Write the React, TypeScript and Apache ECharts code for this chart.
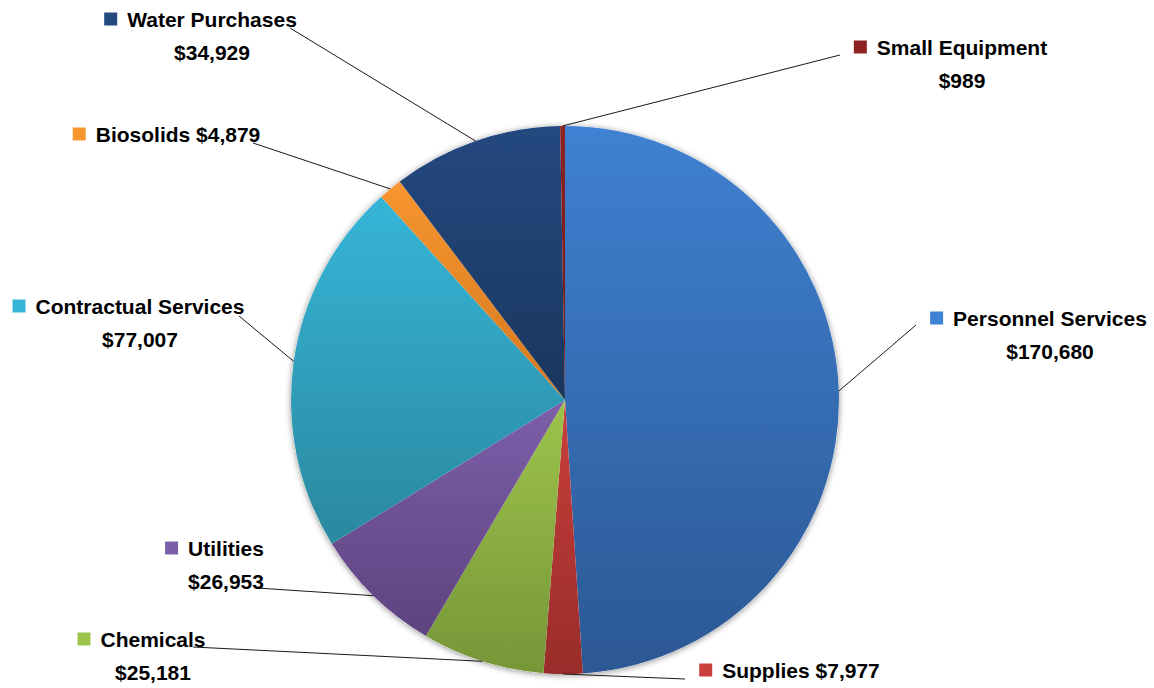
import React, { useEffect, useRef } from "react";
import * as echarts from "echarts";

const categories = [
  "Personnel Services",
  "Supplies",
  "Chemicals",
  "Utilities",
  "Contractual Services",
  "Biosolids",
  "Water Purchases",
  "Small Equipment",
];
const values = [170680, 7977, 25181, 26953, 77007, 4879, 34929, 989];
const singleLine = [false, true, false, false, false, true, false, false];

const topColors = ["#3f81d2", "#c9403d", "#9dc44c", "#7d5fa9", "#36b5d8", "#f7962f", "#24497f", "#8e2323"];
const bottomColors = ["#2c5894", "#992c2a", "#769638", "#5e4380", "#2a889f", "#d5781f", "#19365e", "#681818"];

// layout (pixels)
const CX = 565;
const CY = 400;
const R = 274;
const labelAnchor: number[][] = [
  [1050, 318],
  [801, 670],
  [153, 639],
  [226, 548],
  [140, 306],
  [178, 134],
  [212, 19],
  [962, 47],
];
const lineEnd: number[][] = [
  [916, 325],
  [685, 679],
  [193, 647],
  [257, 588],
  [239, 316],
  [253, 143],
  [290, 28],
  [840, 55],
];

const FONT = "'Liberation Sans', Arial, sans-serif";
const LINE_H = 33;

function fmt(v: number) {
  return "$" + v.toLocaleString("en-US");
}

export default function App() {
  const ref = useRef<HTMLDivElement>(null);
  useEffect(() => {
    if (!ref.current) return;
    const chart = echarts.init(ref.current, undefined, { renderer: "svg" });
    const total = values.reduce((a, b) => a + b, 0);
    let cum = 0;
    const graphics: any[] = [];
    values.forEach((v, i) => {
      const mid = (cum + v / 2) / total;
      cum += v;
      const th = mid * Math.PI * 2;
      const sx = CX + R * Math.sin(th);
      const sy = CY - R * Math.cos(th);
      graphics.push({
        type: "line",
        silent: true,
        shape: { x1: sx, y1: sy, x2: lineEnd[i][0], y2: lineEnd[i][1] },
        style: { stroke: "#1a1a1a", lineWidth: 1 },
        z: 10,
      });
      const name = categories[i];
      const val = fmt(v);
      const text = singleLine[i]
        ? `{sq|}{gap|}${name} ${val}{pad|}`
        : `{sq|}{gap|}${name}{pad|}\n${val}`;
      graphics.push({
        type: "text",
        silent: true,
        x: labelAnchor[i][0],
        y: labelAnchor[i][1] - LINE_H / 2,
        z: 11,
        style: {
          text,
          align: "center",
          textAlign: "center",
          verticalAlign: "top",
          textVerticalAlign: "top",
          fontFamily: FONT,
          fontWeight: "bold",
          fontSize: 21,
          lineHeight: LINE_H,
          fill: "#000",
          rich: {
            sq: {
              width: 13,
              height: 13,
              backgroundColor: topColors[i],
              lineHeight: LINE_H,
            },
            gap: { width: 10, lineHeight: LINE_H },
            pad: { width: 23, lineHeight: LINE_H },
          },
        },
      });
    });

    const data = categories.map((c, i) => ({
      name: c,
      value: values[i],
      itemStyle: {
        color: new echarts.graphic.LinearGradient(0, 0, 0, 1, [
          { offset: 0, color: topColors[i] },
          { offset: 1, color: bottomColors[i] },
        ]),
      },
    }));

    chart.setOption({
      animation: false,
      backgroundColor: "#ffffff",
      series: [
        {
          type: "pie",
          silent: true,
          center: [CX, CY],
          radius: R,
          startAngle: 90,
          label: { show: false },
          labelLine: { show: false },
          data: [
            {
              value: 1,
              itemStyle: {
                color: "#ffffff",
                shadowBlur: 6,
                shadowColor: "rgba(0,0,0,0.45)",
                shadowOffsetY: 1,
              },
            },
          ],
          z: 1,
        },
        {
          type: "pie",
          center: [CX, CY],
          radius: R,
          startAngle: 90,
          clockwise: true,
          label: { show: false },
          labelLine: { show: false },
          emphasis: { disabled: true },
          itemStyle: { borderWidth: 0 },
          data,
          z: 2,
        },
      ],
      graphic: graphics,
    });
    return () => chart.dispose();
  }, []);
  return (
    <div
      ref={ref}
      style={{ position: "absolute", left: 0, top: 0, width: 1154, height: 688 }}
    />
  );
}
